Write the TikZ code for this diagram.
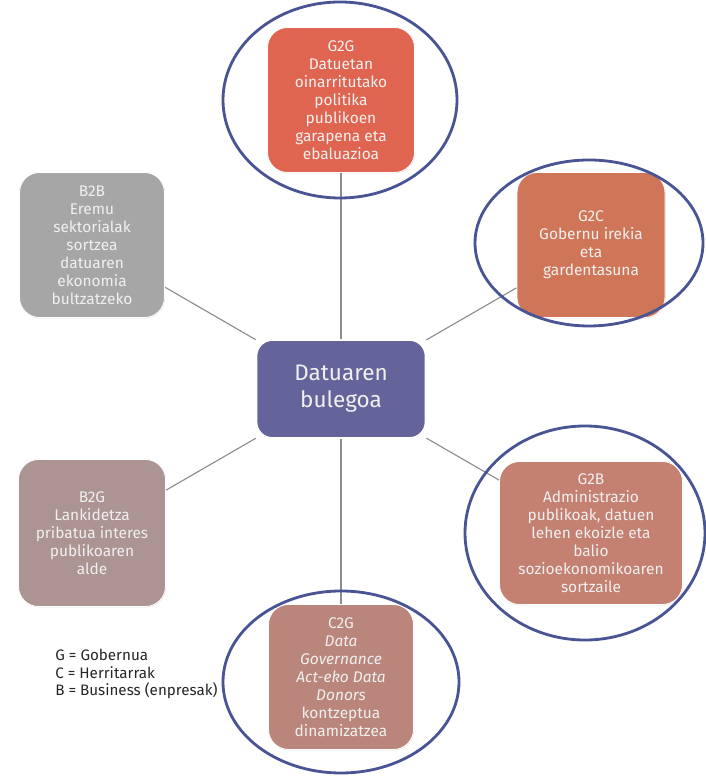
\documentclass[tikz,border=0pt]{standalone}
\usepackage{fontspec}
\setmainfont{Fira Sans}
\usetikzlibrary{shadows, backgrounds}

\definecolor{ggred}{RGB}{224,101,80}
\definecolor{gcorange}{RGB}{208,118,88}
\definecolor{gbrose}{RGB}{196,128,112}
\definecolor{cgrose}{RGB}{186,134,124}
\definecolor{bgmauve}{RGB}{171,148,146}
\definecolor{bbgray}{RGB}{166,166,166}
\definecolor{officeblue}{RGB}{100,100,155}
\definecolor{ringblue}{RGB}{72,84,148}

\tikzset{
  topicbox/.style={rounded corners=0.5cm, draw=white, line width=0.6pt,
    text=white!94!black, align=center, inner sep=2pt,
    font=\fontsize{11}{12.8}\selectfont,
    drop shadow={shadow xshift=0.4pt, shadow yshift=-0.6pt, opacity=0.25}},
  ring/.style={draw=ringblue, line width=2pt},
  spoke/.style={draw=black!45, line width=0.8pt}
}

\begin{document}
\begin{tikzpicture}
    % Fix the size of the page
    \useasboundingbox (0, 0) rectangle (17.65, 19.4);

    % Central office
    \node[topicbox, fill=officeblue, minimum width=4.225cm, minimum height=2.45cm,
      rounded corners=0.4cm, line width=1.2pt, font=\fontsize{16}{19}\selectfont]
      (office) at (8.525, 9.675) {Datuaren\\bulegoa};

    % Boxes round the office
    \node[topicbox, fill=ggred, minimum width=3.675cm, minimum height=3.625cm]
      (g2g) at (8.525, 16.9) {G2G\\Datuetan\\oinarritutako\\politika\\publikoen\\garapena eta\\ebaluazioa};
    \node[topicbox, fill=gcorange, minimum width=3.7cm, minimum height=3.625cm]
      (g2c) at (14.775, 13.275) {G2C\\Gobernu irekia\\eta\\gardentasuna};
    \node[topicbox, fill=bbgray, minimum width=3.625cm, minimum height=3.625cm]
      (b2b) at (2.3, 13.275) {B2B\\Eremu\\sektorialak\\sortzea\\datuaren\\ekonomia\\bultzatzeko};
    \node[topicbox, fill=bgmauve, minimum width=3.675cm, minimum height=3.675cm]
      (b2g) at (2.3, 6.075) {B2G\\Lankidetza\\pribatua interes\\publikoaren\\alde};
    \node[topicbox, fill=gbrose, minimum width=4.575cm, minimum height=3.575cm]
      (g2b) at (14.775, 6.075) {G2B\\Administrazio\\publikoak, datuen\\lehen ekoizle eta\\balio\\sozioekonomikoaren\\sortzaile};
    \node[topicbox, fill=cgrose, minimum width=3.625cm, minimum height=3.625cm]
      (c2g) at (8.525, 2.475) {C2G\\\textit{Data}\\\textit{Governance}\\\textit{Act-eko Data}\\\textit{Donors}\\kontzeptua\\dinamizatzea};

    % Spokes from the office to every box
    \begin{scope}[on background layer]
      \foreach \topic in {g2g, g2c, b2b, b2g, g2b, c2g}
        \draw[spoke] (office) -- (\topic);
    \end{scope}

    % Rings round four of the boxes
    \draw[ring] (8.5, 16.9) ellipse (2.925cm and 2.45cm);
    \draw[ring] (14.725, 13.325) ellipse (2.85cm and 2.075cm);
    \draw[ring] (14.625, 6.075) ellipse (3.0cm and 2.675cm);
    \draw[ring] (8.525, 2.35) ellipse (2.95cm and 2.275cm);

    % Legend
    \node[anchor=north west, align=left, inner sep=0pt, text=black!85,
      font=\fontsize{10.8}{12.6}\selectfont]
      (legend) at (1.375, 3.18) {G = Gobernua\\C = Herritarrak\\B = Business (enpresak)};
\end{tikzpicture}
\end{document}
